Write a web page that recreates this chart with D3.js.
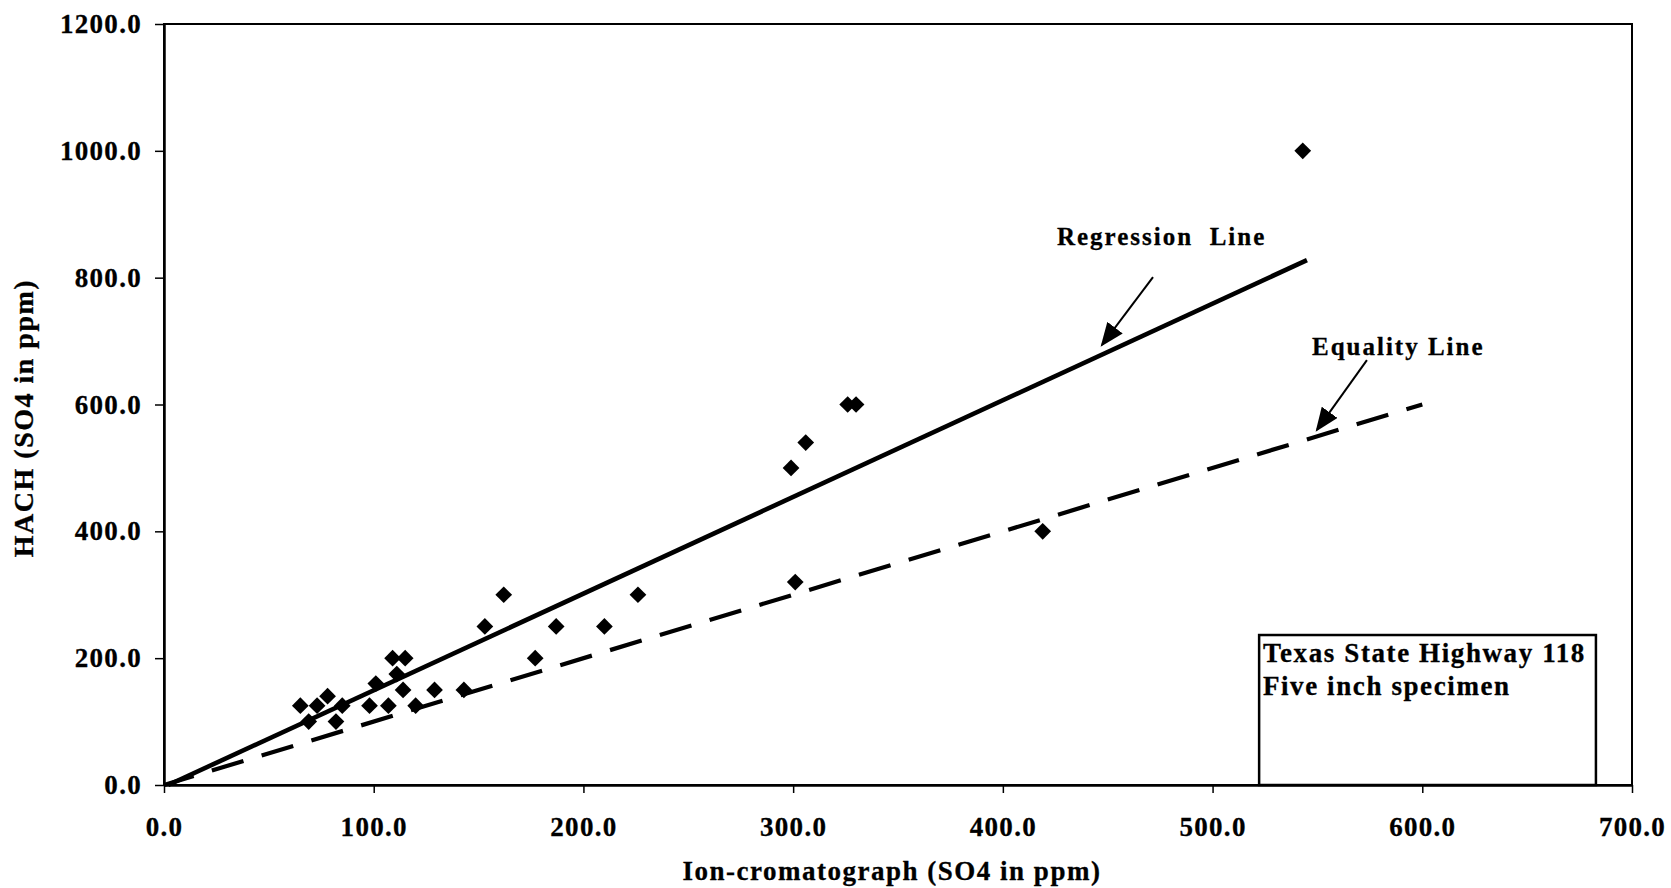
<!DOCTYPE html>
<html>
<head>
<meta charset="utf-8">
<script src="https://cdn.jsdelivr.net/npm/d3@7"></script>
<style>
  html, body { margin: 0; padding: 0; background: #fff; }
  svg { display: block; }
  text { font-family: "Liberation Serif", "Times New Roman", serif; font-weight: bold; fill: #000; }
</style>
</head>
<body>
<svg id="chart" width="1671" height="888"></svg>
<script>
// ---- data ----
const ionX  = [65, 69, 73, 78, 82, 85, 98, 101, 107, 109, 111, 114, 115, 120, 129, 143, 153, 162, 177, 187, 210, 226, 299, 301, 306, 326, 330, 419, 543];
const hachY = [125, 100, 125, 140, 100, 125, 125, 160, 125, 200, 175, 150, 200, 125, 150, 150, 250, 300, 200, 250, 250, 300, 500, 320, 540, 600, 600, 400, 1000];
const regressionX = [2, 545];
const regressionY = [0, 827.7];
const equalityX = [0, 600];
const equalityY = [0, 600];
const xTicks = [0, 100, 200, 300, 400, 500, 600, 700];
const yTicks = [0, 200, 400, 600, 800, 1000, 1200];
const xTitle = "Ion-cromatograph (SO4 in ppm)";
const yTitle = "HACH (SO4 in ppm)";
const regLabel = "Regression  Line";
const eqLabel = "Equality Line";
const boxLines = ["Texas State Highway 118", "Five inch specimen"];
// annotation anchor positions (data units)
const regLabelPos = [425.8, 851];
const regArrow = [[471.6, 801], [447.3, 694]];
const eqLabelPos = [547.4, 678];
const eqArrow = [[573.6, 670], [549.8, 560]];
const boxExtent = [[522.2, 236.5], [682.8, 0]];
const boxTextPos = [[524, 194], [524, 142]];

// ---- layout ----
const svg = d3.select("#chart");
const x = d3.scaleLinear().domain([0, 700]).range([164, 1632]);
const y = d3.scaleLinear().domain([0, 1200]).range([785, 24]);

const defs = svg.append("defs");
defs.append("marker")
  .attr("id", "arrowhead")
  .attr("viewBox", "0 0 10 8")
  .attr("refX", 9).attr("refY", 4)
  .attr("markerWidth", 12).attr("markerHeight", 9.6)
  .attr("markerUnits", "strokeWidth")
  .attr("orient", "auto")
  .append("path").attr("d", "M0,0 L10,4 L0,8 Z").attr("fill", "#000");

// plot frame
svg.append("rect")
  .attr("x", x(0)).attr("y", y(1200))
  .attr("width", x(700) - x(0)).attr("height", y(0) - y(1200))
  .attr("fill", "none").attr("stroke", "#000").attr("stroke-width", 2);

// axes
const fmt = d3.format(".1f");
const yAxis = svg.append("g").attr("transform", `translate(${x(0)},0)`)
  .call(d3.axisLeft(y).tickValues(yTicks).tickFormat(fmt).tickSize(9).tickSizeOuter(0).tickPadding(13));
const xAxis = svg.append("g").attr("transform", `translate(0,${y(0)})`)
  .call(d3.axisBottom(x).tickValues(xTicks).tickFormat(fmt).tickSize(8).tickSizeOuter(0).tickPadding(24));
[yAxis, xAxis].forEach(g => {
  g.select(".domain").attr("stroke", "#000").attr("stroke-width", 2.5);
  g.selectAll(".tick line").attr("stroke", "#000").attr("stroke-width", 1.5);
  g.selectAll(".tick text")
    .style("font-family", '"Liberation Serif", "Times New Roman", serif')
    .style("font-weight", "bold")
    .style("font-size", "27px")
    .style("letter-spacing", "1.3px")
    .style("stroke", "#000").style("stroke-width", "0.3px")
    .attr("fill", "#000");
});

// axis titles
svg.append("text")
  .attr("x", (x(0) + x(700)) / 2 - 6).attr("y", 880)
  .attr("text-anchor", "middle")
  .style("font-size", "27px").style("letter-spacing", "1.5px")
  .style("stroke", "#000").style("stroke-width", "0.3px")
  .text(xTitle);
svg.append("text")
  .attr("transform", `translate(33,${418}) rotate(-90)`)
  .attr("text-anchor", "middle")
  .style("font-size", "28px").style("letter-spacing", "1.5px")
  .style("stroke", "#000").style("stroke-width", "0.3px")
  .text(yTitle);

// lines
const line = d3.line().x(d => x(d[0])).y(d => y(d[1]));
svg.append("path")
  .datum(equalityX.map((v, i) => [v, equalityY[i]]))
  .attr("d", line).attr("fill", "none").attr("stroke", "#000")
  .attr("stroke-width", 4.2).attr("stroke-dasharray", "33,19").attr("stroke-dashoffset", 2);
svg.append("path")
  .datum(regressionX.map((v, i) => [v, regressionY[i]]))
  .attr("d", line).attr("fill", "none").attr("stroke", "#000")
  .attr("stroke-width", 4.6);

// points
const diamond = d3.symbol().type(d3.symbolSquare).size(140);
svg.append("g").selectAll("path")
  .data(ionX.map((v, i) => [v, hachY[i]]))
  .join("path")
  .attr("d", diamond)
  .attr("transform", d => `translate(${x(d[0])},${y(d[1])}) rotate(45)`)
  .attr("fill", "#000");

// annotations
svg.append("text")
  .attr("x", x(regLabelPos[0])).attr("y", y(regLabelPos[1]))
  .style("font-size", "25px").style("letter-spacing", "2px").style("white-space", "pre")
  .style("stroke", "#000").style("stroke-width", "0.3px")
  .attr("xml:space", "preserve")
  .text(regLabel);
svg.append("line")
  .attr("x1", x(regArrow[0][0])).attr("y1", y(regArrow[0][1]))
  .attr("x2", x(regArrow[1][0])).attr("y2", y(regArrow[1][1]))
  .attr("stroke", "#000").attr("stroke-width", 2).attr("marker-end", "url(#arrowhead)");
svg.append("text")
  .attr("x", x(eqLabelPos[0])).attr("y", y(eqLabelPos[1]))
  .style("font-size", "25px").style("letter-spacing", "2px")
  .style("stroke", "#000").style("stroke-width", "0.3px")
  .text(eqLabel);
svg.append("line")
  .attr("x1", x(eqArrow[0][0])).attr("y1", y(eqArrow[0][1]))
  .attr("x2", x(eqArrow[1][0])).attr("y2", y(eqArrow[1][1]))
  .attr("stroke", "#000").attr("stroke-width", 2).attr("marker-end", "url(#arrowhead)");

// info box
svg.append("rect")
  .attr("x", x(boxExtent[0][0])).attr("y", y(boxExtent[0][1]))
  .attr("width", x(boxExtent[1][0]) - x(boxExtent[0][0]))
  .attr("height", y(boxExtent[1][1]) - y(boxExtent[0][1]))
  .attr("fill", "#fff").attr("stroke", "#000").attr("stroke-width", 2.5);
boxLines.forEach((t, i) => {
  svg.append("text")
    .attr("x", x(boxTextPos[i][0])).attr("y", y(boxTextPos[i][1]))
    .style("font-size", "27px").style("letter-spacing", "1.6px")
    .style("stroke", "#000").style("stroke-width", "0.3px")
    .text(t);
});
</script>
</body>
</html>
